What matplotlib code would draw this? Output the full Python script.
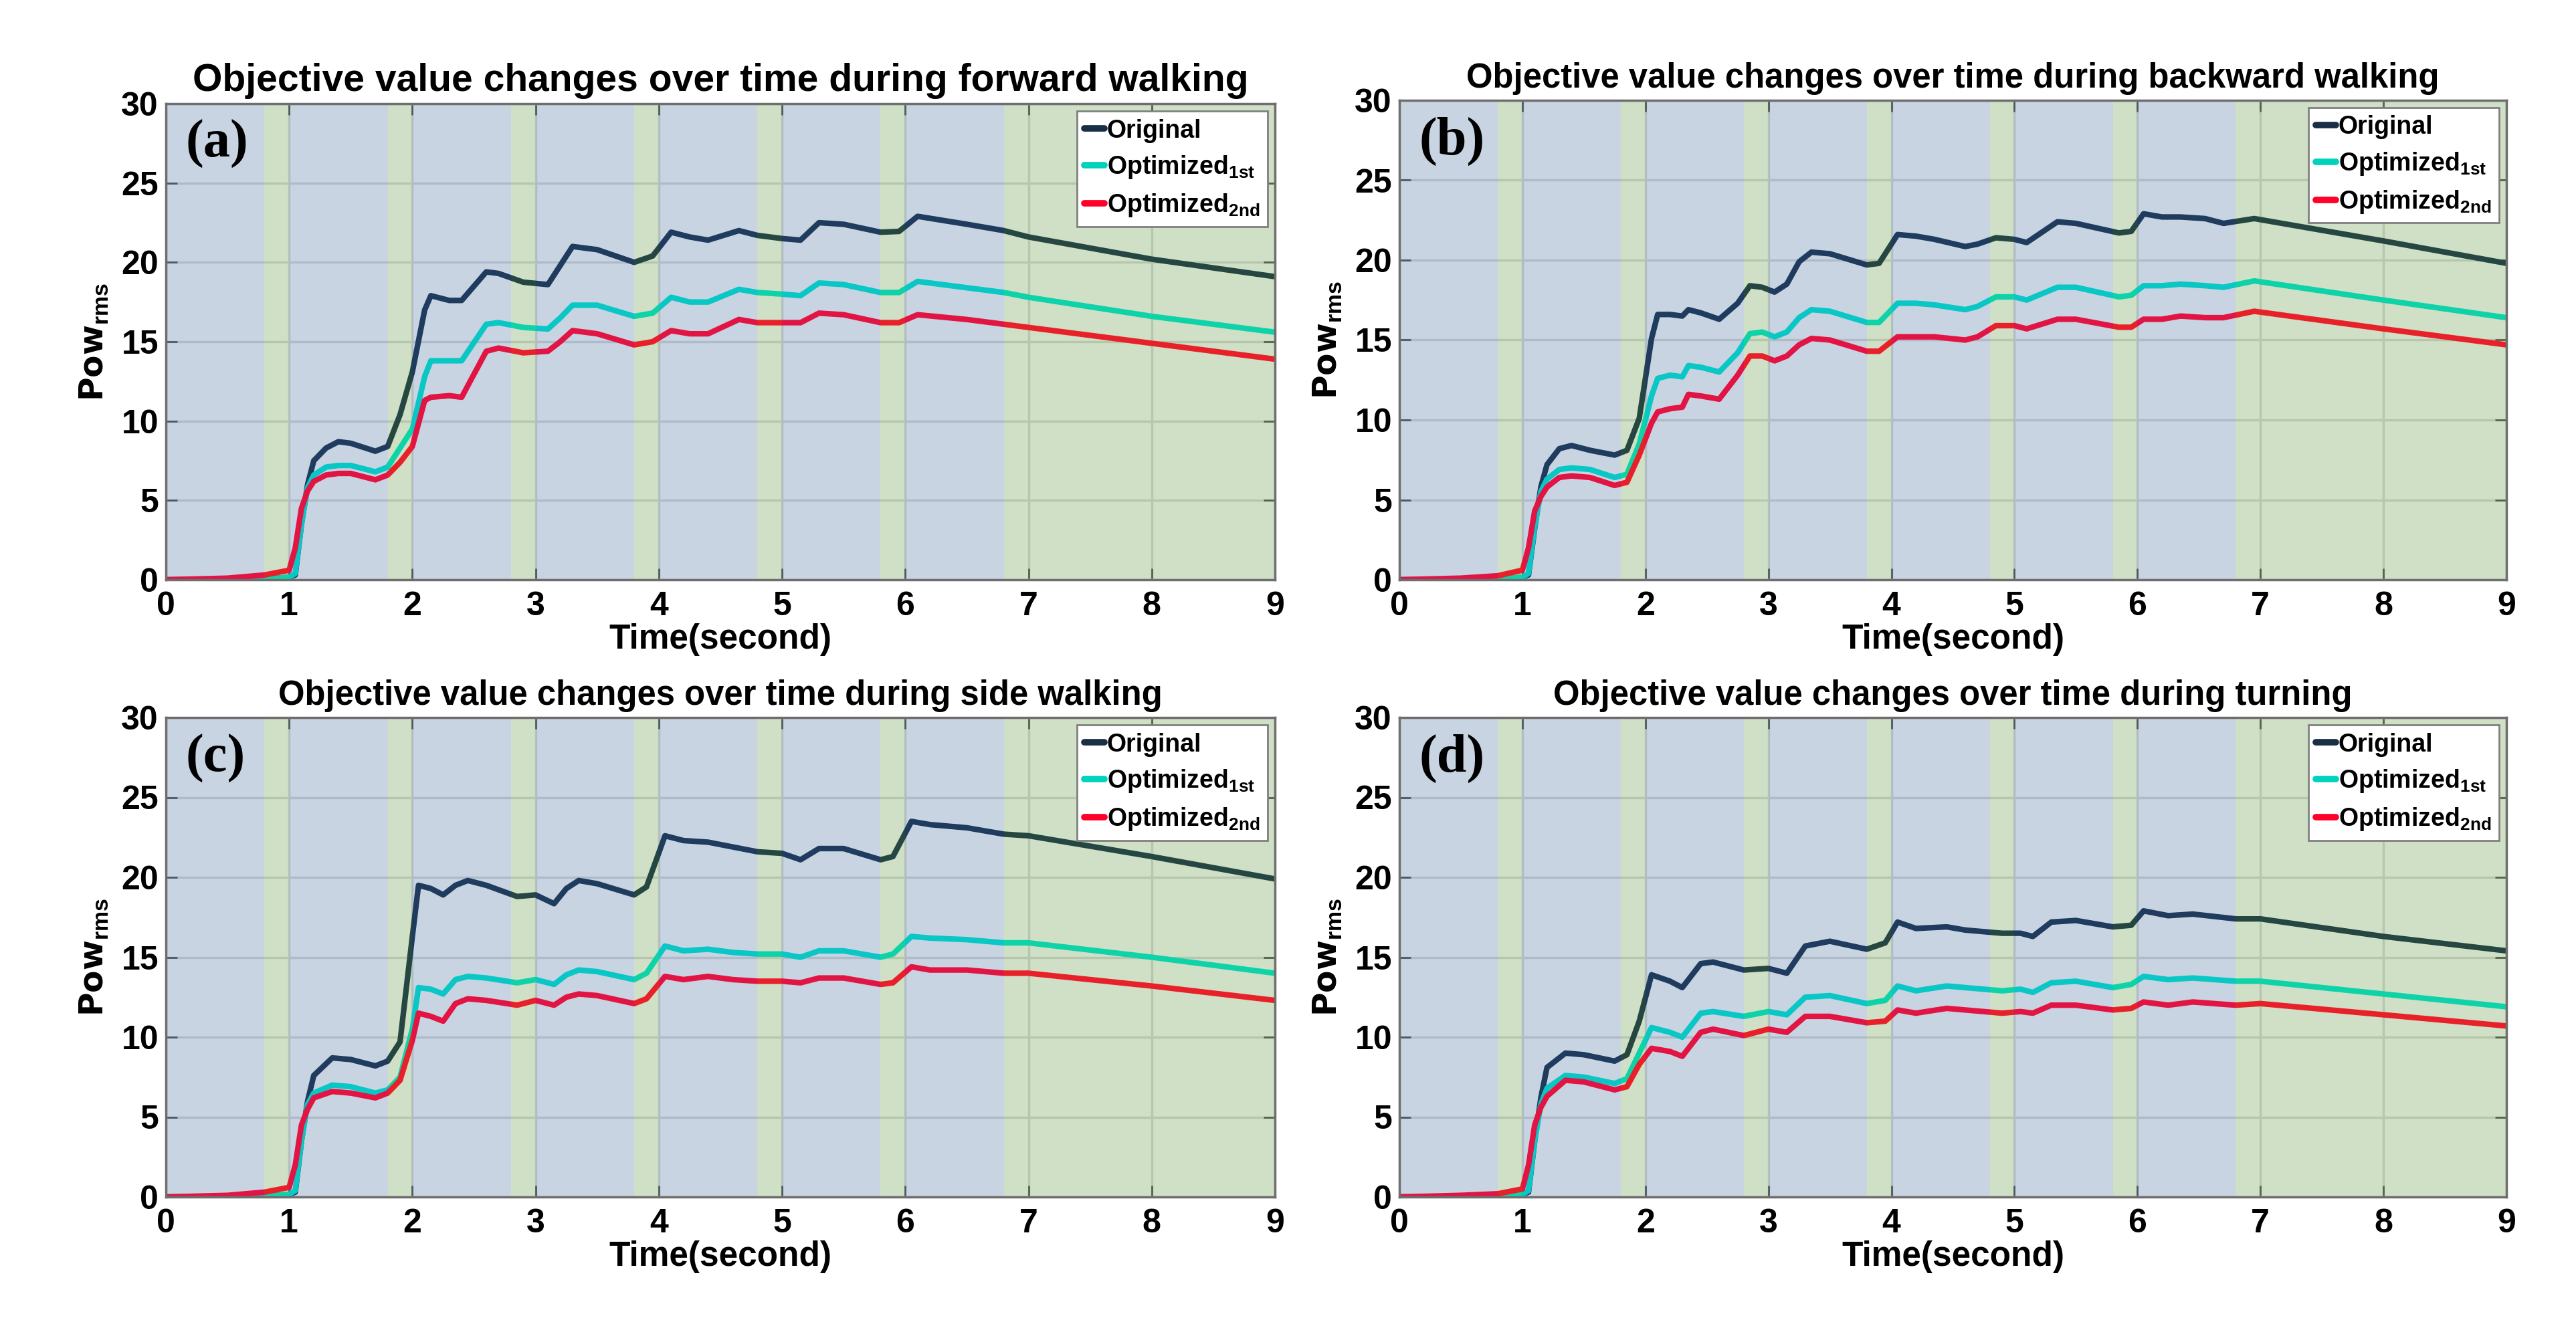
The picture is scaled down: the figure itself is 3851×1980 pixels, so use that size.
#! /usr/bin/env python

# objective value (Pow_rms) over time for four walking modes
import numpy as np
import matplotlib
matplotlib.use("Agg")
import matplotlib.pyplot as plt

plt.rcParams['font.family'] = ['Liberation Sans', 'DejaVu Sans']
plt.rcParams['font.weight'] = 'bold'
plt.rcParams['mathtext.fontset'] = 'custom'
plt.rcParams['mathtext.rm'] = 'Liberation Sans'
plt.rcParams['mathtext.bf'] = 'Liberation Sans:bold'

# ---- data ----
titles = ["Objective value changes over time during forward walking",
          "Objective value changes over time during backward walking",
          "Objective value changes over time during side walking",
          "Objective value changes over time during turning"]
panel_tags = ["(a)", "(b)", "(c)", "(d)"]
series_names = ["Original", r"Optimized$_{\mathbf{1st}}$", r"Optimized$_{\mathbf{2nd}}$"]

# shaded phases (seconds)
blue_spans = [(0.0, 0.8), (1.0, 1.8), (2.0, 2.8), (3.0, 3.8), (4.0, 4.8), (5.0, 5.8), (6.0, 6.8)]
green_spans = [(0.8, 1.0), (1.8, 2.0), (2.8, 3.0), (3.8, 4.0), (4.8, 5.0), (5.8, 6.0), (6.8, 9.0)]

# (a) forward walking
t_a = [0, 0.5, 0.8, 1.0, 1.05, 1.1, 1.15, 1.2, 1.3, 1.4, 1.5, 1.7, 1.8, 1.9, 2.0, 2.1, 2.15, 2.3, 2.4, 2.6,
       2.7, 2.9, 3.1, 3.2, 3.3, 3.5, 3.8, 3.95, 4.1, 4.25, 4.4, 4.65, 4.8, 5.0, 5.15, 5.3, 5.5, 5.8, 5.95, 6.1,
       6.5, 6.8, 7.0, 8.0, 9.0]
orig_a = [0, 0.02, 0.05, 0.15, 0.3, 3.5, 6.0, 7.5, 8.3, 8.7, 8.6, 8.1, 8.4, 10.4, 13.1, 17.0, 17.9, 17.6, 17.6, 19.4,
          19.3, 18.75, 18.6, 19.8, 21.0, 20.8, 20.0, 20.4, 21.9, 21.6, 21.4, 22.0, 21.7, 21.5, 21.4, 22.5, 22.4, 21.9, 21.95, 22.9,
          22.4, 22.0, 21.6, 20.2, 19.1]
opt1_a = [0, 0.02, 0.05, 0.15, 0.4, 3.5, 5.8, 6.6, 7.1, 7.2, 7.2, 6.8, 7.1, 8.3, 9.5, 12.8, 13.8, 13.8, 13.8, 16.1,
          16.2, 15.9, 15.8, 16.5, 17.3, 17.3, 16.6, 16.8, 17.8, 17.5, 17.5, 18.3, 18.1, 18.0, 17.9, 18.7, 18.6, 18.1, 18.1, 18.8,
          18.4, 18.1, 17.8, 16.6, 15.6]
opt2_a = [0, 0.1, 0.3, 0.6, 2.0, 4.5, 5.6, 6.2, 6.6, 6.7, 6.7, 6.3, 6.6, 7.4, 8.4, 11.3, 11.5, 11.6, 11.5, 14.4,
          14.6, 14.3, 14.4, 15.0, 15.7, 15.5, 14.8, 15.0, 15.7, 15.5, 15.5, 16.4, 16.2, 16.2, 16.2, 16.8, 16.7, 16.2, 16.2, 16.7,
          16.4, 16.1, 15.9, 14.9, 13.9]

# (b) backward walking
t_b = [0, 0.5, 0.8, 1.0, 1.05, 1.1, 1.15, 1.2, 1.3, 1.4, 1.55, 1.75, 1.85, 1.95, 2.05, 2.1, 2.2, 2.3, 2.35, 2.45,
       2.6, 2.75, 2.85, 2.95, 3.05, 3.15, 3.25, 3.35, 3.5, 3.8, 3.9, 4.05, 4.2, 4.35, 4.6, 4.7, 4.85, 5.0, 5.1, 5.35,
       5.5, 5.85, 5.95, 6.05, 6.2, 6.35, 6.55, 6.7, 6.95, 8.0, 9.0]
orig_b = [0, 0.02, 0.05, 0.15, 0.3, 3.2, 5.8, 7.2, 8.2, 8.4, 8.1, 7.8, 8.1, 10.1, 15.1, 16.6, 16.6, 16.5, 16.9, 16.7,
          16.3, 17.3, 18.4, 18.3, 18.0, 18.5, 19.9, 20.5, 20.4, 19.7, 19.8, 21.6, 21.5, 21.3, 20.85, 21.0, 21.4, 21.3, 21.1, 22.4,
          22.3, 21.7, 21.8, 22.9, 22.7, 22.7, 22.6, 22.3, 22.6, 21.2, 19.8]
opt1_b = [0, 0.02, 0.05, 0.15, 0.4, 3.3, 5.5, 6.3, 6.9, 7.0, 6.9, 6.4, 6.6, 8.5, 11.5, 12.6, 12.8, 12.7, 13.4, 13.3,
          13.0, 14.2, 15.4, 15.5, 15.2, 15.5, 16.4, 16.9, 16.8, 16.1, 16.1, 17.3, 17.3, 17.2, 16.9, 17.1, 17.7, 17.7, 17.5, 18.3,
          18.3, 17.7, 17.8, 18.4, 18.4, 18.5, 18.4, 18.3, 18.7, 17.5, 16.4]
opt2_b = [0, 0.1, 0.25, 0.6, 2.0, 4.3, 5.2, 5.8, 6.4, 6.5, 6.4, 5.9, 6.1, 7.8, 9.8, 10.5, 10.7, 10.8, 11.6, 11.5,
          11.3, 12.8, 14.0, 14.0, 13.7, 14.0, 14.7, 15.1, 15.0, 14.3, 14.3, 15.2, 15.2, 15.2, 15.0, 15.2, 15.9, 15.9, 15.7, 16.3,
          16.3, 15.8, 15.8, 16.3, 16.3, 16.5, 16.4, 16.4, 16.8, 15.7, 14.7]

# (c) side walking
t_c = [0, 0.5, 0.8, 1.0, 1.05, 1.1, 1.15, 1.2, 1.35, 1.5, 1.7, 1.8, 1.9, 2.0, 2.05, 2.15, 2.25, 2.35, 2.45, 2.6,
       2.85, 3.0, 3.15, 3.25, 3.35, 3.5, 3.8, 3.9, 4.05, 4.2, 4.4, 4.6, 4.8, 5.0, 5.15, 5.3, 5.5, 5.8, 5.9, 6.05,
       6.2, 6.5, 6.8, 7.0, 8.0, 9.0]
orig_c = [0, 0.02, 0.05, 0.15, 0.3, 3.5, 6.0, 7.6, 8.7, 8.6, 8.2, 8.5, 9.7, 16.3, 19.5, 19.3, 18.9, 19.5, 19.8, 19.5,
          18.8, 18.9, 18.35, 19.3, 19.8, 19.6, 18.9, 19.4, 22.6, 22.3, 22.2, 21.9, 21.6, 21.5, 21.1, 21.8, 21.8, 21.1, 21.3, 23.5,
          23.3, 23.1, 22.7, 22.6, 21.3, 19.9]
opt1_c = [0, 0.02, 0.05, 0.15, 0.4, 3.5, 5.8, 6.5, 7.0, 6.9, 6.5, 6.7, 7.5, 10.5, 13.1, 13.0, 12.7, 13.6, 13.8, 13.7,
          13.4, 13.6, 13.3, 13.9, 14.2, 14.1, 13.6, 14.0, 15.7, 15.4, 15.5, 15.3, 15.2, 15.2, 15.0, 15.4, 15.4, 15.0, 15.2, 16.3,
          16.2, 16.1, 15.9, 15.9, 15.0, 14.0]
opt2_c = [0, 0.1, 0.3, 0.6, 2.0, 4.5, 5.5, 6.2, 6.6, 6.5, 6.2, 6.5, 7.3, 9.8, 11.5, 11.3, 11.0, 12.1, 12.4, 12.3,
          12.0, 12.3, 12.0, 12.5, 12.7, 12.6, 12.1, 12.4, 13.8, 13.6, 13.8, 13.6, 13.5, 13.5, 13.4, 13.7, 13.7, 13.3, 13.4, 14.4,
          14.2, 14.2, 14.0, 14.0, 13.2, 12.3]

# (d) turning
t_d = [0, 0.5, 0.8, 1.0, 1.05, 1.1, 1.15, 1.2, 1.35, 1.5, 1.75, 1.85, 1.95, 2.05, 2.2, 2.3, 2.45, 2.55, 2.8, 3.0,
       3.15, 3.3, 3.5, 3.8, 3.95, 4.05, 4.2, 4.45, 4.6, 4.9, 5.05, 5.15, 5.3, 5.5, 5.8, 5.95, 6.05, 6.25, 6.45, 6.8,
       7.0, 8.0, 9.0]
orig_d = [0, 0.02, 0.05, 0.15, 0.3, 3.5, 6.2, 8.1, 9.0, 8.9, 8.5, 8.9, 11.0, 13.9, 13.5, 13.1, 14.6, 14.7, 14.2, 14.3,
          14.0, 15.7, 16.0, 15.5, 15.9, 17.2, 16.8, 16.9, 16.7, 16.5, 16.5, 16.3, 17.2, 17.3, 16.9, 17.0, 17.9, 17.6, 17.7, 17.4,
          17.4, 16.3, 15.4]
opt1_d = [0, 0.02, 0.05, 0.15, 0.4, 3.5, 5.8, 6.8, 7.6, 7.5, 7.1, 7.4, 9.0, 10.6, 10.3, 10.0, 11.5, 11.6, 11.3, 11.6,
          11.4, 12.5, 12.6, 12.1, 12.3, 13.2, 12.9, 13.2, 13.1, 12.9, 13.0, 12.8, 13.4, 13.5, 13.1, 13.3, 13.8, 13.6, 13.7, 13.5,
          13.5, 12.7, 11.9]
opt2_d = [0, 0.1, 0.2, 0.5, 2.0, 4.5, 5.6, 6.3, 7.3, 7.2, 6.7, 6.9, 8.3, 9.3, 9.1, 8.8, 10.3, 10.5, 10.1, 10.5,
          10.3, 11.3, 11.3, 10.9, 11.0, 11.7, 11.5, 11.8, 11.7, 11.5, 11.6, 11.5, 12.0, 12.0, 11.7, 11.8, 12.2, 12.0, 12.2, 12.0,
          12.1, 11.4, 10.7]

panels = [(t_a, orig_a, opt1_a, opt2_a),
          (t_b, orig_b, opt1_b, opt2_b),
          (t_c, orig_c, opt1_c, opt2_c),
          (t_d, orig_d, opt1_d, opt2_d)]

line_colors = ['#1A2E45', '#00D2BE', '#FF0028']
blue_shade = '#3C8CE9'
green_shade = '#6BDC2F'

W, H = 3851, 1980
fig = plt.figure(figsize=(W / 100, H / 100), dpi=100)

# axes boxes in pixels: left, top, right, bottom
boxes = [(248, 155, 1906, 867), (2092, 150, 3747, 867),
         (248, 1073, 1906, 1790), (2092, 1073, 3747, 1790)]
title_sizes = [41, 36.5, 36.5, 36.5]


def draw_panel(ax, t, series, title, tag, tsize):
    ax.set_facecolor('#E1E1E1')
    for i, ys in enumerate(series):
        ax.plot(t, ys, color=line_colors[i], lw=6, label=series_names[i], zorder=2,
                solid_joinstyle='round', solid_capstyle='round')
    # translucent phase shading laid over the curves
    for (a, b) in blue_spans:
        ax.axvspan(a, b, color=blue_shade, alpha=0.15, lw=0, zorder=3)
    for (a, b) in green_spans:
        ax.axvspan(a, b, color=green_shade, alpha=0.15, lw=0, zorder=3)

    ax.set_xlim(0, 9)
    ax.set_ylim(0, 30)
    ax.set_xticks(range(0, 10))
    ax.set_yticks(range(0, 31, 5))
    ax.set_axisbelow(True)
    ax.grid(True, color='#C4C4C4', lw=2.5)
    ax.tick_params(direction='in', length=12, width=2, color='#505050',
                   top=True, right=True, labelsize=36, pad=8)
    for lab in ax.get_xticklabels() + ax.get_yticklabels():
        lab.set_fontweight('bold')
    ax.tick_params(axis='x', pad=12)
    for s in ax.spines.values():
        s.set_color('#6E6E6E')
        s.set_linewidth(2.5)
        s.set_zorder(4)

    ax.set_title(title, fontsize=tsize, fontweight='bold', pad=14)
    ax.set_xlabel('Time(second)', fontsize=37, fontweight='bold', labelpad=2)
    ax.set_ylabel(r'Pow$_{\mathbf{rms}}$', fontsize=35, fontweight='bold',
                  family='DejaVu Sans', labelpad=12)
    ax.text(0.018, 0.915, tag, transform=ax.transAxes, ha='left', va='center',
            fontsize=58, fontweight='bold', family='Liberation Serif', zorder=5)

    leg = ax.legend(loc='upper right', fontsize=27, frameon=True, fancybox=False,
                    handlelength=0.8, handletextpad=0.1, borderpad=0.3,
                    labelspacing=0.45, borderaxespad=0.3, framealpha=1)
    leg.get_frame().set_edgecolor('#808080')
    leg.get_frame().set_linewidth(2)
    for h in leg.get_lines():
        h.set_linewidth(7)
    for txt in leg.get_texts():
        txt.set_fontweight('bold')


for k in range(4):
    l, tp, r, b = boxes[k]
    ax = fig.add_axes([l / W, 1 - b / H, (r - l) / W, (b - tp) / H])
    t, o, p1, p2 = panels[k]
    draw_panel(ax, t, [o, p1, p2], titles[k], panel_tags[k], title_sizes[k])

fig.savefig("out.png", dpi=100)
